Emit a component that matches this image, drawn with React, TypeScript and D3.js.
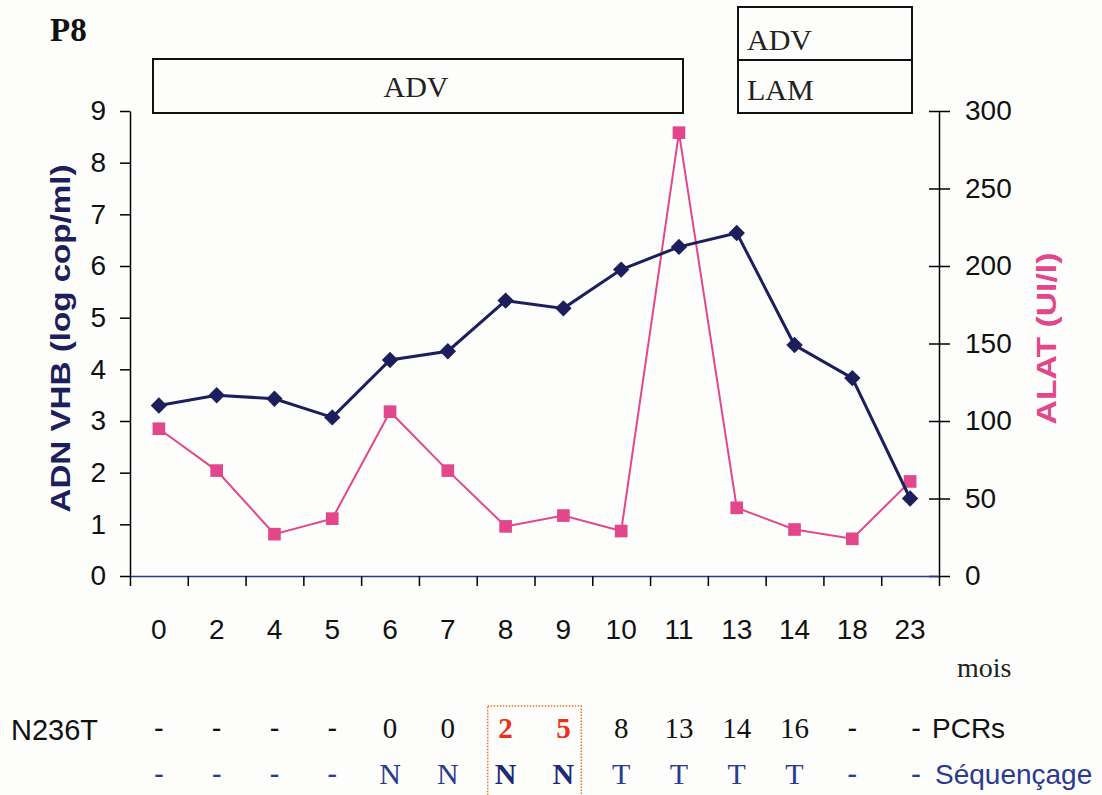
import { useEffect, useMemo, useRef } from 'react';
import * as d3 from 'd3';

// months of follow-up (categorical x axis)
const categories = ['0', '2', '4', '5', '6', '7', '8', '9', '10', '11', '13', '14', '18', '23'];
// ADN VHB, log cop/ml (left axis)
const adnVhb = [3.3, 3.5, 3.43, 3.07, 4.18, 4.35, 5.33, 5.18, 5.93, 6.37, 6.64, 4.47, 3.83, 1.5];
// ALAT, UI/l (right axis)
const alat = [95, 68, 27, 37, 106, 68, 32, 39, 29, 286, 44, 30, 24, 61];
// N236T rows under the chart
const pcrs = ['-', '-', '-', '-', '0', '0', '2', '5', '8', '13', '14', '16', '-', '-'];
const sequencage = ['-', '-', '-', '-', 'N', 'N', 'N', 'N', 'T', 'T', 'T', 'T', '-', '-'];
const highlighted = ['8', '9'];
const leftTicks = [0, 1, 2, 3, 4, 5, 6, 7, 8, 9];
const rightTicks = [0, 50, 100, 150, 200, 250, 300];

const W = 1102;
const H = 795;
const PLOT = { left: 130, right: 939, top: 111, bottom: 576 };
const NAVY = '#1c1f5c';
const PINK = '#e2478c';
const BLUE = '#2b3a8f';
const RED = '#e8311a';
const SANS = '"Liberation Sans", Arial, sans-serif';
const SERIF = '"Liberation Serif", "Times New Roman", serif';

export default function App() {
    const axesRef = useRef<SVGGElement>(null);

    const xScale = useMemo(
        () => d3.scaleBand().domain(categories).range([PLOT.left, PLOT.right]).padding(0),
        []
    );
    const xTickScale = useMemo(
        () => d3.scaleLinear().domain([0, categories.length]).range([PLOT.left, PLOT.right]),
        []
    );
    const yLeft = useMemo(() => d3.scaleLinear().domain([0, 9]).range([PLOT.bottom, PLOT.top]), []);
    const yRight = useMemo(() => d3.scaleLinear().domain([0, 300]).range([PLOT.bottom, PLOT.top]), []);

    const cx = (c: string) => xScale(c)! + xScale.bandwidth() / 2;

    useEffect(() => {
        const g = d3.select(axesRef.current);
        g.selectAll('*').remove();

        // left axis
        const left = g
            .append('g')
            .attr('transform', `translate(${PLOT.left},0)`)
            .call(d3.axisLeft(yLeft).tickValues(leftTicks).tickSize(10).tickSizeOuter(0).tickPadding(14));
        left.attr('font-size', 28).attr('font-family', SANS);

        // right axis, ticks crossing the line
        const right = g
            .append('g')
            .attr('transform', `translate(${PLOT.right},0)`)
            .call(d3.axisRight(yRight).tickValues(rightTicks).tickSize(11).tickSizeOuter(0).tickPadding(15));
        right.attr('font-size', 28).attr('font-family', SANS);
        right.selectAll('.tick line').attr('x1', -10);

        // bottom axis, ticks on the category boundaries
        const bottom = g
            .append('g')
            .attr('transform', `translate(0,${PLOT.bottom})`)
            .call(
                d3
                    .axisBottom(xTickScale)
                    .tickValues(d3.range(0, categories.length + 1))
                    .tickSize(10)
                    .tickSizeOuter(0)
                    .tickFormat(() => '')
            );
        bottom.select('.domain').attr('stroke', '#2a3a8a');

        g.selectAll('path.domain').attr('stroke-width', 1.5);
        g.selectAll('.tick line').attr('stroke-width', 1.5);
        g.selectAll('text').attr('fill', '#111');
    }, [xTickScale, yLeft, yRight]);

    const navyLine = d3
        .line<number>()
        .x((_, i) => cx(categories[i]))
        .y((d) => yLeft(d));
    const pinkLine = d3
        .line<number>()
        .x((_, i) => cx(categories[i]))
        .y((d) => yRight(d));

    const diamond = d3.symbol(d3.symbolSquare, 135)();
    const square = d3.symbol(d3.symbolSquare, 160)();

    const midY = (PLOT.top + PLOT.bottom) / 2 - 5;
    const hl0 = xScale(highlighted[0])!;
    const hl1 = xScale(highlighted[1])! + xScale.bandwidth();

    return (
        <svg width={W} height={H} style={{ position: 'absolute', left: 0, top: 0, background: '#fdfdfb' }}>
            <text x={50} y={41} fontFamily={SERIF} fontWeight="bold" fontSize={33} fill="#111">
                P8
            </text>

            {/* treatment boxes */}
            <rect x={153} y={59} width={530} height={54} fill="none" stroke="#111" strokeWidth={2} />
            <text x={416} y={97} textAnchor="middle" fontFamily={SERIF} fontSize={30} fill="#222">
                ADV
            </text>
            <rect x={738} y={7} width={174} height={53} fill="none" stroke="#111" strokeWidth={2} />
            <rect x={738} y={60} width={174} height={53} fill="none" stroke="#111" strokeWidth={2} />
            <text x={747} y={50} fontFamily={SERIF} fontSize={30} fill="#222">
                ADV
            </text>
            <text x={747} y={100} fontFamily={SERIF} fontSize={30} fill="#222">
                LAM
            </text>

            <g ref={axesRef} />

            {/* axis titles */}
            <text
                transform={`translate(70,${midY}) rotate(-90)`}
                textAnchor="middle"
                fontFamily={SANS}
                fontWeight="bold"
                fontSize={28}
                fill={NAVY}
                textLength={348}
                lengthAdjust="spacingAndGlyphs"
            >
                ADN VHB (log cop/ml)
            </text>
            <text
                transform={`translate(1056,${midY}) rotate(-90)`}
                textAnchor="middle"
                fontFamily={SANS}
                fontWeight="bold"
                fontSize={28}
                fill={PINK}
                textLength={172}
                lengthAdjust="spacingAndGlyphs"
            >
                ALAT (UI/l)
            </text>

            {/* series */}
            <path d={pinkLine(alat)!} fill="none" stroke={PINK} strokeWidth={2} />
            {alat.map((v, i) => (
                <path key={'a' + i} d={square!} transform={`translate(${cx(categories[i])},${yRight(v)})`} fill={PINK} />
            ))}
            <path d={navyLine(adnVhb)!} fill="none" stroke={NAVY} strokeWidth={3} />
            {adnVhb.map((v, i) => (
                <path
                    key={'v' + i}
                    d={diamond!}
                    transform={`translate(${cx(categories[i])},${yLeft(v)}) rotate(45)`}
                    fill={NAVY}
                />
            ))}

            {/* x labels */}
            {categories.map((c) => (
                <text key={'x' + c} x={cx(c)} y={639} textAnchor="middle" fontFamily={SANS} fontSize={28} fill="#111">
                    {c}
                </text>
            ))}
            <text x={957} y={677} fontFamily={SERIF} fontSize={28} fill="#222">
                mois
            </text>

            {/* N236T rows */}
            <rect
                x={hl0 + 11}
                y={706}
                width={hl1 - hl0 - 22}
                height={95}
                fill="none"
                stroke="#e8742a"
                strokeWidth={1.5}
                strokeDasharray="1.5 1.5"
            />
            <text x={11} y={740} fontFamily={SANS} fontSize={29} fill="#111">
                N236T
            </text>
            {pcrs.map((p, i) => {
                const hl = highlighted.includes(categories[i]);
                const dash = p === '-';
                return (
                    <text
                        key={'p' + i}
                        x={cx(categories[i]) + (i === pcrs.length - 1 ? 6 : 0)}
                        y={738}
                        textAnchor="middle"
                        fontFamily={dash ? SANS : SERIF}
                        fontWeight={hl ? 'bold' : 'normal'}
                        fontSize={29}
                        fill={hl ? RED : '#111'}
                    >
                        {p}
                    </text>
                );
            })}
            <text x={932} y={738} fontFamily={SANS} fontSize={28} fill="#111">
                PCRs
            </text>
            {sequencage.map((s, i) => {
                const hl = highlighted.includes(categories[i]);
                const dash = s === '-';
                return (
                    <text
                        key={'s' + i}
                        x={cx(categories[i]) + (i === sequencage.length - 1 ? 6 : 0)}
                        y={784}
                        textAnchor="middle"
                        fontFamily={dash ? SANS : SERIF}
                        fontWeight={hl ? 'bold' : 'normal'}
                        fontSize={30}
                        fill={hl ? '#1e2a78' : BLUE}
                    >
                        {s}
                    </text>
                );
            })}
            <text x={935} y={784} fontFamily={SANS} fontSize={28} fill={BLUE}>
                Séquençage
            </text>
        </svg>
    );
}
